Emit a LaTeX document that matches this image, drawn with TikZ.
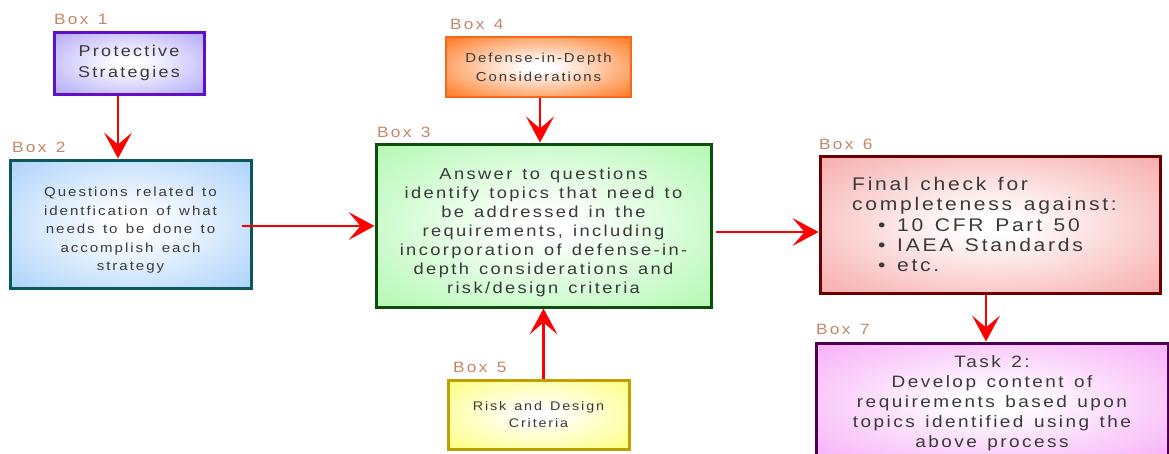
\documentclass[tikz,border=0pt]{standalone}
\usepackage{fontspec}
\setmainfont{Liberation Sans}
\newfontfamily\boxfont[FakeStretch=1.15, LetterSpace=15, WordSpace=1.35]{Liberation Sans}
\usetikzlibrary{arrows.meta}

\definecolor{labeltan}{RGB}{196,134,104}
\definecolor{txtgray}{RGB}{58,58,58}
\definecolor{flowred}{RGB}{255,0,0}
\definecolor{bordA}{RGB}{98,16,200}   \definecolor{fillA}{RGB}{166,156,248}
\definecolor{bordB}{RGB}{12,88,88}    \definecolor{fillB}{RGB}{160,204,250}
\definecolor{bordC}{RGB}{10,80,10}    \definecolor{fillC}{RGB}{168,248,168}
\definecolor{bordD}{RGB}{248,104,24}  \definecolor{fillD}{RGB}{255,100,0}
\definecolor{bordE}{RGB}{192,160,0}   \definecolor{fillE}{RGB}{255,255,110}
\definecolor{bordF}{RGB}{108,0,0}     \definecolor{fillF}{RGB}{246,160,160}
\definecolor{bordG}{RGB}{80,0,80}     \definecolor{fillG}{RGB}{246,164,246}

% white centre fading out to the box colour towards the edges
\pgfdeclareradialshading[glowcol]{glow}{\pgfpoint{0bp}{0bp}}{%
  color(0bp)=(white); color(4bp)=(white); color(40bp)=(glowcol); color(75bp)=(glowcol)}

\tikzset{
  box/.style n args={4}{draw=#1, line width=3pt, /utils/exec={\colorlet{glowcol}{#2}},
    shade, shading=glow, rectangle, inner sep=0pt, align=center, text=txtgray,
    minimum width=#3, minimum height=#4},
  boxlabel/.style={anchor=west, inner sep=0pt, text=labeltan,
    font=\boxfont\fontsize{15}{18}\selectfont},
  flow/.style={draw=flowred, line width=2.6pt,
    -{Stealth[length=26pt,width=28pt,inset=12pt,line width=0pt]}}
}

\begin{document}
\begin{tikzpicture}[x=1pt,y=-1pt]
\useasboundingbox (0,0) rectangle (1169,453);
\clip (0,0) rectangle (1169,453);

% boxes
\node[box={bordA}{fillA}{150pt}{62pt}, font=\boxfont\fontsize{15.6}{21}\selectfont]
  (b1) at (129,63) {Protective\\Strategies};
\node[box={bordB}{fillB}{241pt}{128pt}, font=\boxfont\fontsize{13.1}{18.5}\selectfont]
  (b2) at (130.5,224) {\rule{0pt}{22pt}Questions related to\\identfication of what\\needs to be done to\\accomplish each\\strategy};
\node[box={bordC}{fillC}{335pt}{163pt}, font=\boxfont\fontsize{15.9}{19}\selectfont]
  (b3) at (543.5,225.5) {\rule{0pt}{25pt}Answer to questions\\identify topics that need to\\be addressed in the\\requirements, including\\incorporation of defense-in-\\depth considerations and\\risk/design criteria};
\node[box={bordD}{fillD}{185pt}{60pt}, line width=2pt, font=\boxfont\fontsize{13}{19}\selectfont]
  (b4) at (538.5,67) {Defense-in-Depth\\Considerations};
\node[box={bordE}{fillE}{181pt}{69pt}, font=\boxfont\fontsize{12.5}{17}\selectfont]
  (b5) at (538.5,414.5) {Risk and Design\\Criteria};
\node[box={bordF}{fillF}{340pt}{137pt}, align=left,
  font=\boxfont\fontsize{18.3}{20.2}\selectfont]
  (b6) at (990,224.5) {Final check for\\completeness against:\hbox to 11pt{}\\\hspace*{26pt}• 10 CFR Part 50\\\hspace*{26pt}• IAEA Standards\\\hspace*{26pt}• etc.};
\node[box={bordG}{fillG}{352pt}{118pt}, font=\boxfont\fontsize{16.5}{20}\selectfont]
  (b7) at (992,402) {\rule{0pt}{14pt}Task 2:\\Develop content of\\requirements based upon\\topics identified using the\\above process};

% box captions
\node[boxlabel] (l1) at (54,19)  {Box 1};
\node[boxlabel] (l2) at (12,147) {Box 2};
\node[boxlabel] (l3) at (377,132) {Box 3};
\node[boxlabel] (l4) at (450,24) {Box 4};
\node[boxlabel] (l5) at (453,367) {Box 5};
\node[boxlabel] (l6) at (819,144) {Box 6};
\node[boxlabel] (l7) at (816,329) {Box 7};

% connectors
\draw[flow] ([xshift=-11pt]b1.south) -- ([xshift=-11pt]b1.south |- b2.north);
\draw[flow] ([xshift=-11pt,yshift=-2pt]b2.east) -- ([yshift=-2pt]b2.east -| b3.west);
\draw[flow] ([xshift=1.5pt]b4.south) -- ([xshift=1.5pt]b4.south |- b3.north);
\draw[flow] (b3.south |- b5.north) -- (b3.south);
\draw[flow] ([xshift=3pt,yshift=-6.5pt]b3.east) -- ([yshift=-6.5pt]b3.east -| b6.west);
\draw[flow] ([xshift=-4pt]b6.south) -- ([xshift=-4pt]b6.south |- b7.north);
\end{tikzpicture}
\end{document}
